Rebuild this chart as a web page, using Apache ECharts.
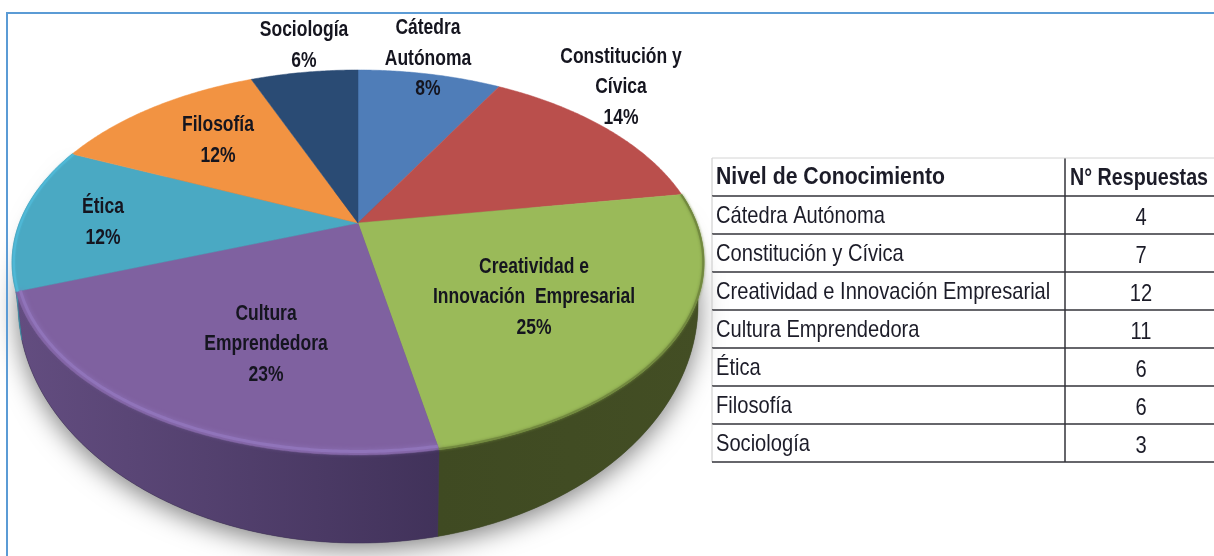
<!DOCTYPE html>
<html><head><meta charset="utf-8">
<style>html,body{margin:0;padding:0;background:#fff}#c{width:1214px;height:556px;filter:blur(0.45px)}</style>
<script src="https://cdn.jsdelivr.net/npm/echarts@6/dist/echarts.min.js"></script>
</head><body><div id="c"></div>
<script>
const categories = ['Cátedra Autónoma','Constitución y Cívica','Creatividad e Innovación Empresarial','Cultura Emprendedora','Ética','Filosofía','Sociología'];
const responses = [4,7,12,11,6,6,3];
const percentLabels = ['8%','14%','25%','23%','12%','12%','6%'];
const sliceLabelLines = [['Cátedra','Autónoma'],['Constitución y','Cívica'],['Creatividad e','Innovación  Empresarial'],['Cultura','Emprendedora'],['Ética'],['Filosofía'],['Sociología']];
const tableHeader = ['Nivel de Conocimiento','N° Respuestas'];

// styling
const topColors = ['#4f7db8','#ba4f4c','#9aba59','#7f61a0','#4aa9c3','#f29342','#2a4b74'];
const wallColors = [null,null,['#3f4a22','#434e24'],['#634d80','#41325a'],['#3f93aa','#3f93aa'],null,null];
const rimStyles = [null,null,{c:'#72893f',w:2,r:0.998,b:3},{c:'#9074ba',w:3,r:0.988,b:5},{c:'#4fb8d6',w:2,r:0.995,b:2},null,null];
const labelCenters = [[428,58.5],[621,87],[534,297],[266,344],[103,222.5],[218,140.5],[304,45.5]];
const FONT = '"Liberation Sans",sans-serif';

// perspective projection of the pie discs (angle in turns, clockwise from top)
const K = 0.205;
const topDisc = {cx:358, cy:223, bx:338.6, ay:184.4};
const baseDisc = {cx:358, cy:255, bx:332.8, ay:229};
function project(d, turn, r){
  const t = turn*2*Math.PI, X = r*Math.sin(t), Y = r*Math.cos(t), w = 1+K*Y;
  return [d.cx + d.bx*X/w, d.cy - d.ay*Y/w];
}
const total = responses.reduce((a,b)=>a+b,0);
const cum = [0]; responses.forEach((v,i)=>cum.push(cum[i]+v/total));
function arc(d, a, b, r){
  const n = Math.max(2, Math.ceil((b-a)*720)), p=[];
  for(let i=0;i<=n;i++) p.push(project(d, a+(b-a)*i/n, r));
  return p;
}
const sliceData = categories.map((c,i)=>({name:c, value:[responses[i]]}));
const none = {type:'group',children:[]};

const shadowSeries = {type:'custom', coordinateSystem:'none', silent:true, z:1, data:[0],
  renderItem(){ return {type:'polygon', shape:{points:arc(baseDisc,cum[2],cum[5],1)},
    style:{fill:'#555', shadowBlur:26, shadowColor:'rgba(0,0,0,0.5)', shadowOffsetY:6}}; }};
const wallSeries = {type:'custom', coordinateSystem:'none', silent:true, z:2, data:sliceData,
  renderItem(p){ const i=p.dataIndex; if(!wallColors[i]) return none;
    const pts=arc(topDisc,cum[i],cum[i+1],1).concat(arc(baseDisc,cum[i],cum[i+1],1).reverse());
    const fill=new echarts.graphic.LinearGradient(0,0,1,0,[{offset:0,color:wallColors[i][0]},{offset:1,color:wallColors[i][1]}]);
    return {type:'polygon', shape:{points:pts}, style:{fill, stroke:wallColors[i][1], lineWidth:0.5}}; }};
const topSeries = {type:'custom', coordinateSystem:'none', silent:true, z:3, data:sliceData,
  renderItem(p){ const i=p.dataIndex, pts=[project(topDisc,0,0)].concat(arc(topDisc,cum[i],cum[i+1],1));
    return {type:'polygon', shape:{points:pts}, style:{fill:topColors[i], stroke:topColors[i], lineWidth:0.5}}; }};
const rimSeries = {type:'custom', coordinateSystem:'none', silent:true, z:4, data:sliceData,
  renderItem(p){ const i=p.dataIndex, s=rimStyles[i]; if(!s) return none;
    return {type:'polyline', shape:{points:arc(topDisc,cum[i],cum[i+1],s.r)},
      style:{fill:null, stroke:s.c, lineWidth:s.w, shadowBlur:s.b, shadowColor:s.c}}; }};
const labelSeries = {type:'custom', coordinateSystem:'none', silent:true, z:5, data:sliceData,
  renderItem(p){ const i=p.dataIndex;
    return {type:'text', x:labelCenters[i][0], y:labelCenters[i][1], scaleX:0.795, style:{x:0, y:0,
      text:sliceLabelLines[i].concat(percentLabels[i]).join('\n'), align:'center', verticalAlign:'middle',
      font:'bold 22px '+FONT, lineHeight:30.5, fill:'#15151f'}}; }};

// table
const T = {left:712, mid:1065, right:1214, top:158, rowH:38};
function hline(y,c,w){return {type:'line',shape:{x1:T.left,y1:y,x2:T.right,y2:y},style:{stroke:c,lineWidth:w}};}
function cell(x,y,sx,text,align,bold){
  return {type:'text',x,y,scaleX:sx,style:{x:0,y:0,text,align,verticalAlign:'middle',font:(bold?'bold ':'')+'24px '+FONT,fill:'#1c1c28'}};
}
const tableSeries = {type:'custom', coordinateSystem:'none', silent:true, z:6, data:[{name:'header',value:[0]}].concat(sliceData),
  renderItem(p){ const i=p.dataIndex, y=T.top+i*T.rowH, cy=y+T.rowH/2;
    const head=i===0;
    const left=head?tableHeader[0]:categories[i-1], right=head?tableHeader[1]:String(responses[i-1]);
    const kids=[
      cell(T.left+4, cy+(head?0:1), head?0.885:0.838, left, 'left', head),
      cell(head?1070:1141, cy+(head?1:3), head?0.82:0.838, right, head?'left':'center', head),
      {type:'line',shape:{x1:T.mid,y1:y,x2:T.mid,y2:y+T.rowH},style:{stroke:'#33333a',lineWidth:1.5}},
      {type:'line',shape:{x1:T.left,y1:y,x2:T.left,y2:y+T.rowH},style:{stroke:'#c8c8c8',lineWidth:1}},
      hline(y+T.rowH,'#33333a',1.5)
    ];
    if(head) kids.push(hline(y,'#d4d4d4',1));
    return {type:'group',children:kids}; }};

const chart = echarts.init(document.getElementById('c'));
chart.setOption({
  animation:false,
  backgroundColor:'#fff',
  graphic:[
    {type:'line',z:10,shape:{x1:7,y1:13,x2:1214,y2:13},style:{stroke:'#5b9bd5',lineWidth:2}},
    {type:'line',z:10,shape:{x1:7,y1:12,x2:7,y2:556},style:{stroke:'#5b9bd5',lineWidth:2}}
  ],
  series:[shadowSeries,wallSeries,topSeries,rimSeries,labelSeries,tableSeries]
});
</script></body></html>
